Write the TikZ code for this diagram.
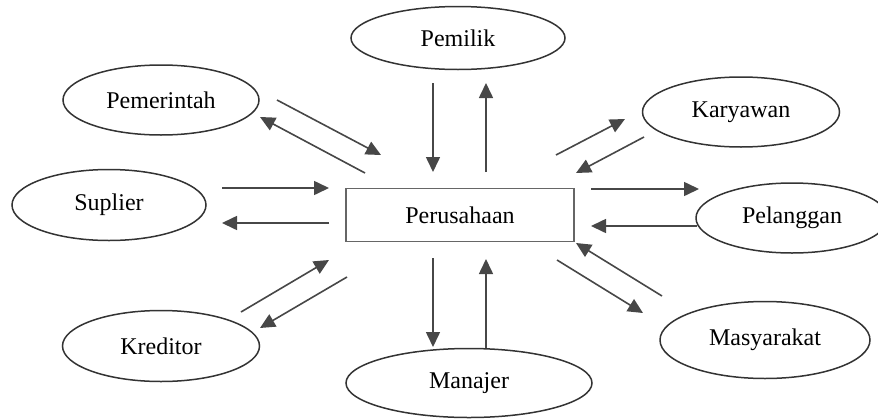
\documentclass[tikz,border=0pt]{standalone}
\usepackage{fontspec}
\setmainfont{Liberation Serif}
\usetikzlibrary{arrows.meta, shapes, positioning}

\tikzset{
	party/.style={ellipse, draw=black!80, line width=0.75pt, inner sep=0pt, font=\fontsize{12}{14}\selectfont},
	firm/.style={rectangle, draw=black!60, line width=0.75pt, inner sep=0pt, font=\fontsize{12}{14}\selectfont},
	flow/.style={->, draw=black!72, line width=0.8pt}
}

\begin{document}
\begin{tikzpicture}[x=0.5pt, y=-0.5pt, >={Triangle[length=7.5pt, width=7pt]}]

	\useasboundingbox (0,0) rectangle (878,418);

	\node[firm, minimum width=114pt, minimum height=26.5pt]	(firm)	at	(460, 215)	{Perusahaan};

	\node[party, minimum width=107pt, minimum height=31.5pt]	(pemilik)		at	(458, 38)	{Pemilik};
	\node[party, minimum width=98pt, minimum height=35pt]	(pemerintah)	at	(161, 100)	{Pemerintah};
	\node[party, minimum width=98.5pt, minimum height=35pt]	(karyawan)		at	(741, 112)	{Karyawan};
	\node[party, minimum width=97pt, minimum height=35.5pt]	(suplier)		at	(109, 205)	{Suplier};
	\node[party, minimum width=96pt, minimum height=35pt]	(pelanggan)		at	(792, 218)	{Pelanggan};
	\node[party, minimum width=98.5pt, minimum height=35.5pt]	(kreditor)		at	(161, 346)	{Kreditor};
	\node[party, minimum width=123pt, minimum height=34.5pt]	(manajer)		at	(469, 383)	{Manajer};
	\node[party, minimum width=105pt, minimum height=38.5pt]	(masyarakat)	at	(765, 340)	{Masyarakat};

	% ends of the flows
	\coordinate (pmA)	at	(433, 83);	\coordinate (pmB)	at	(433, 172);
	\coordinate (pmC)	at	(486, 172);	\coordinate (pmD)	at	(486, 83);
	\coordinate (prA)	at	(277, 100);	\coordinate (prB)	at	(381, 155);
	\coordinate (prC)	at	(365, 173);	\coordinate (prD)	at	(260, 117);
	\coordinate (kyA)	at	(556, 155);	\coordinate (kyB)	at	(625, 119);
	\coordinate (kyC)	at	(644, 137);	\coordinate (kyD)	at	(576, 173);
	\coordinate (spA)	at	(222, 188);	\coordinate (spB)	at	(329, 188);
	\coordinate (spC)	at	(329, 223);	\coordinate (spD)	at	(222, 223);
	\coordinate (plA)	at	(591, 189);	\coordinate (plB)	at	(699, 189);
	\coordinate (plC)	at	(697, 226);	\coordinate (plD)	at	(591, 226);
	\coordinate (krA)	at	(241, 312);	\coordinate (krB)	at	(329, 260);
	\coordinate (krC)	at	(347, 277);	\coordinate (krD)	at	(260, 328);
	\coordinate (mjA)	at	(433, 258);	\coordinate (mjB)	at	(433, 347);
	\coordinate (mjC)	at	(486, 348);	\coordinate (mjD)	at	(486, 259);
	\coordinate (msA)	at	(557, 260);	\coordinate (msB)	at	(643, 313);
	\coordinate (msC)	at	(662, 296);	\coordinate (msD)	at	(576, 243);

	\path	(pmA) edge[flow] (pmB)	(pmC) edge[flow] (pmD)
			(prA) edge[flow] (prB)	(prC) edge[flow] (prD)
			(kyA) edge[flow] (kyB)	(kyC) edge[flow] (kyD)
			(spA) edge[flow] (spB)	(spC) edge[flow] (spD)
			(plA) edge[flow] (plB)	(plC) edge[flow] (plD)
			(krA) edge[flow] (krB)	(krC) edge[flow] (krD)
			(mjA) edge[flow] (mjB)	(mjC) edge[flow] (mjD)
			(msA) edge[flow] (msB)	(msC) edge[flow] (msD);

\end{tikzpicture}
\end{document}
